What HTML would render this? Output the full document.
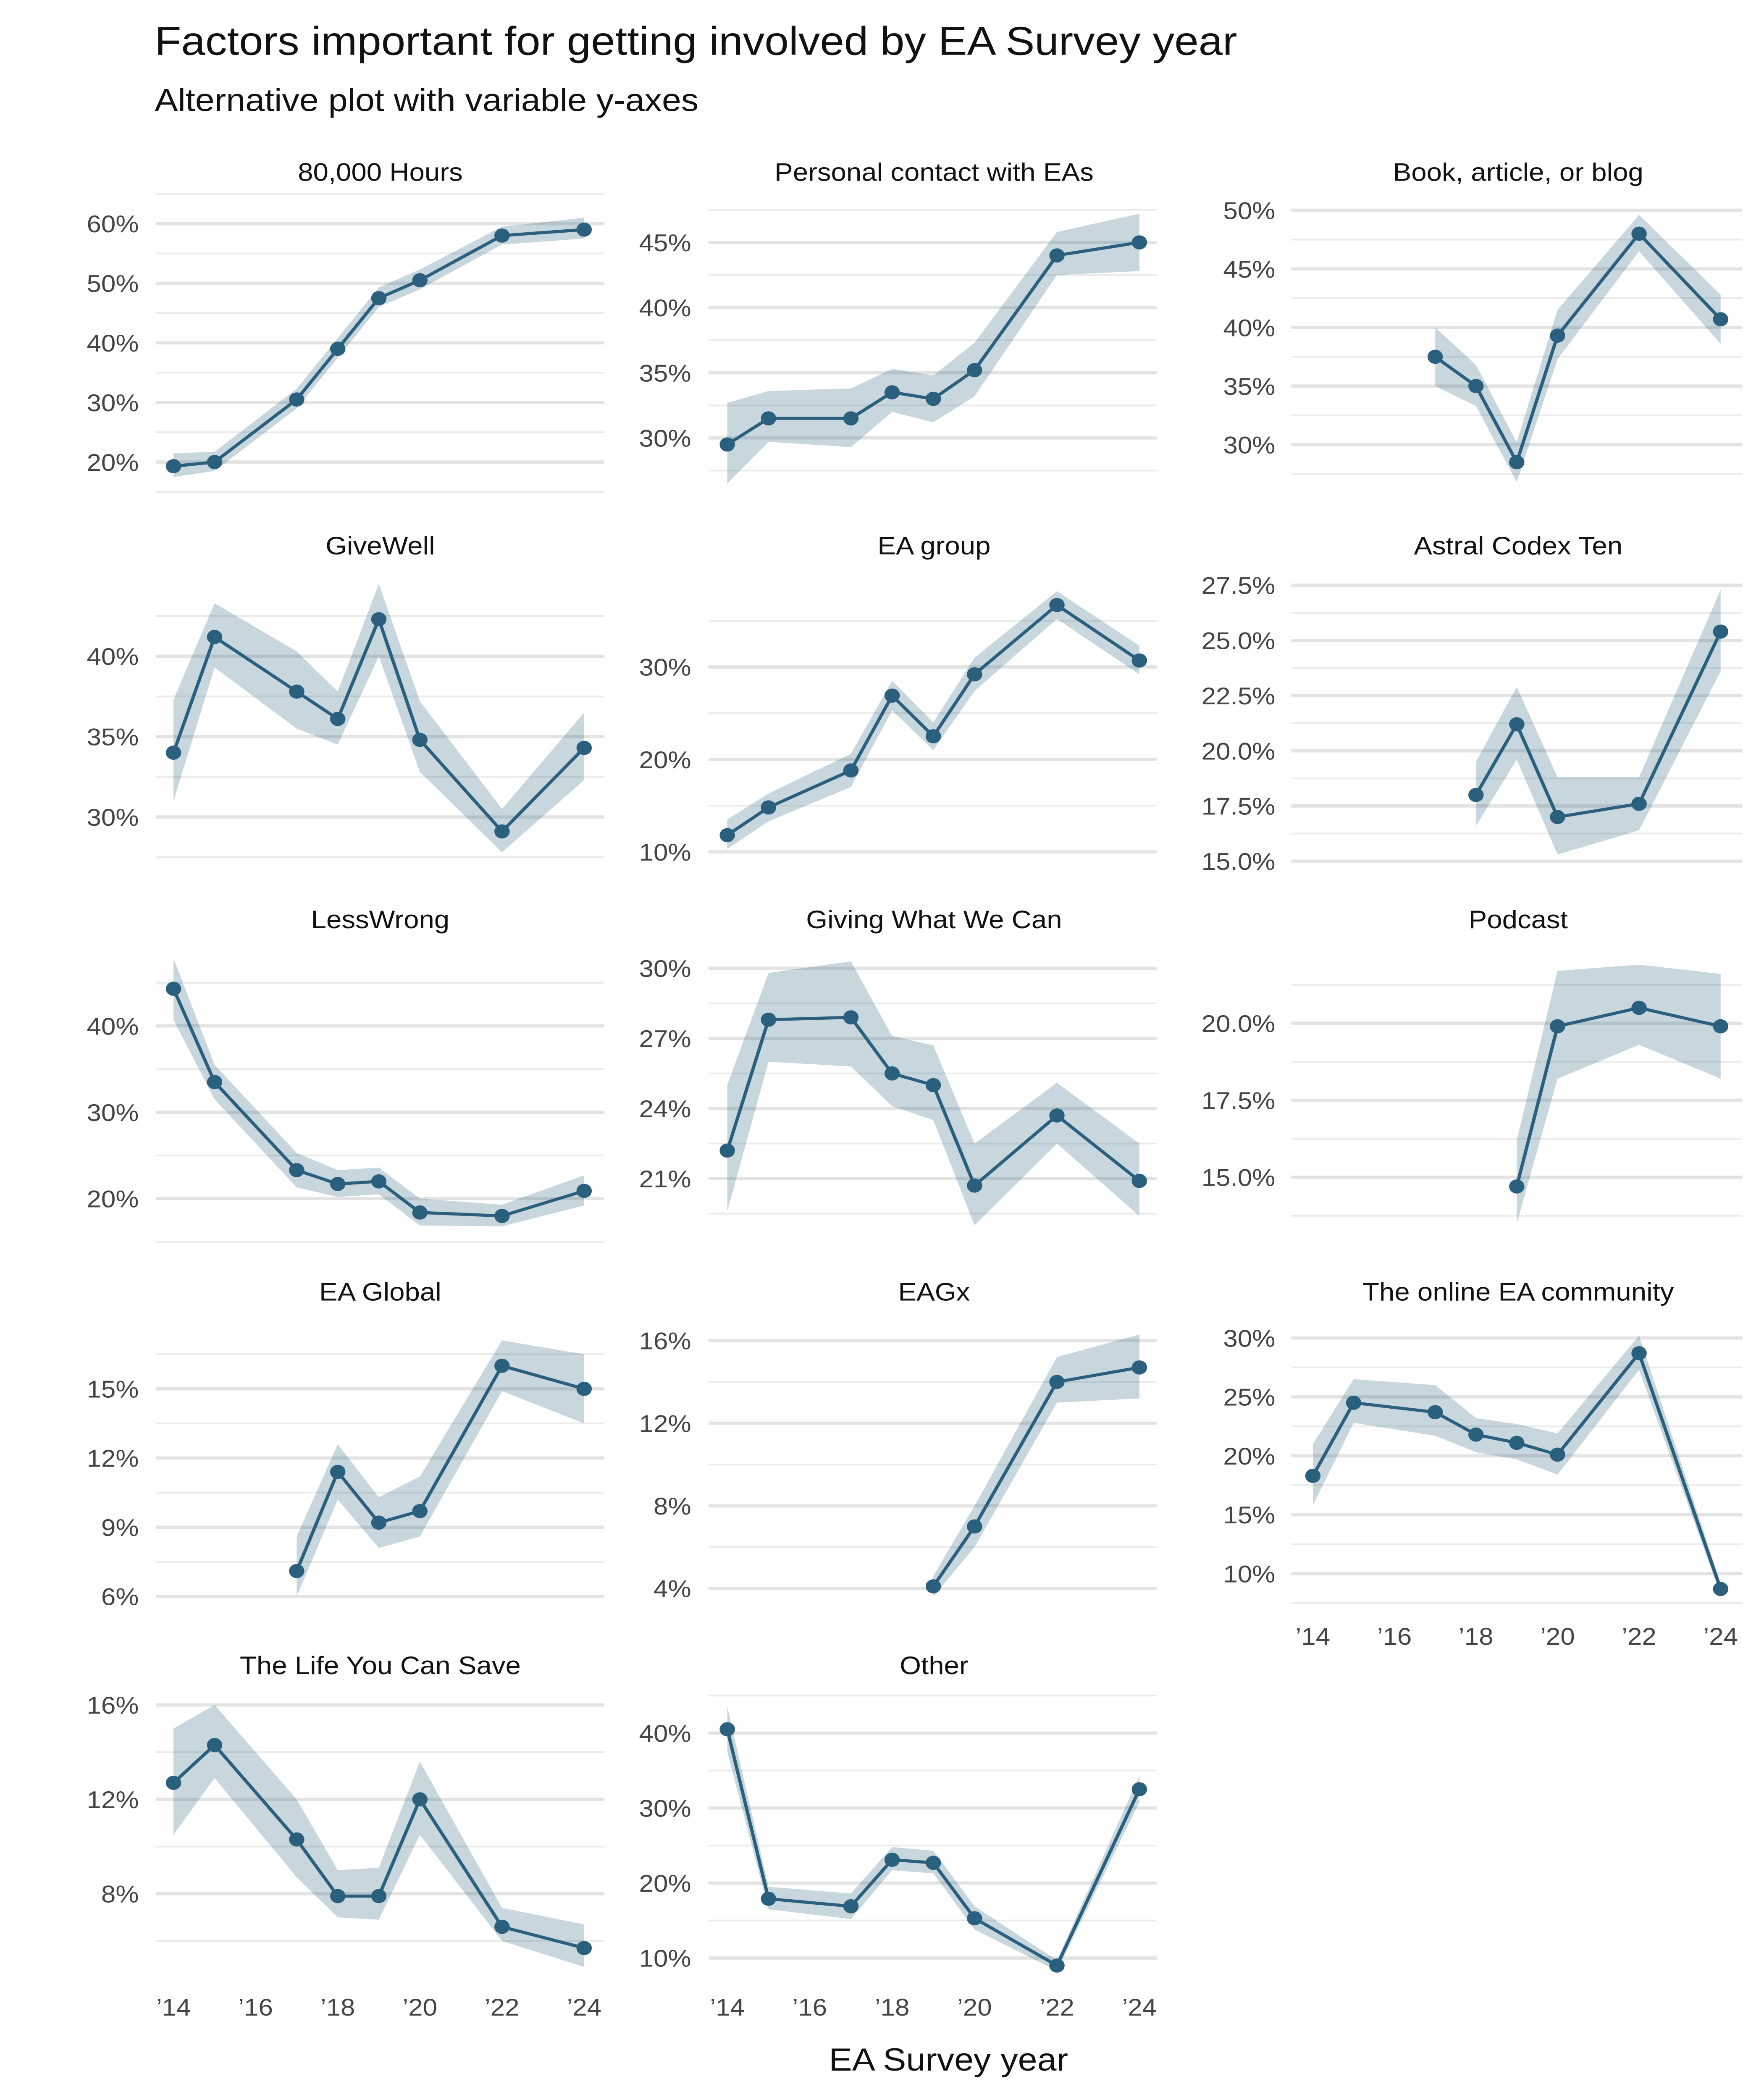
<!DOCTYPE html>
<html><head><meta charset="utf-8">
<style>
html,body{margin:0;padding:0;background:#fff;width:100%;height:100%;overflow:hidden;}
svg{display:block;position:absolute;left:0;top:0;width:100vw;height:100vh;font-family:"Liberation Sans",sans-serif;}
</style></head>
<body>
<svg id="chart" viewBox="0 0 1220 1568" preserveAspectRatio="none" xmlns="http://www.w3.org/2000/svg">
<rect width="1220" height="1568" fill="#fff"/>
<text x="107" y="41" font-size="30" fill="#111">Factors important for getting involved by EA Survey year</text>
<text x="107" y="83" font-size="24" fill="#111">Alternative plot with variable y-axes</text>
<text x="656" y="1546" font-size="24" fill="#111" text-anchor="middle">EA Survey year</text>
<g id="panels"></g>
</svg>
<script>
const years = [2014, 2015, 2017, 2018, 2019, 2020, 2022, 2024];
const xTickYears = [2014, 2016, 2018, 2020, 2022, 2024];
const xTickLabels = ["’14", "’16", "’18", "’20", "’22", "’24"];
const panelTitles = ["80,000 Hours","Personal contact with EAs","Book, article, or blog","GiveWell","EA group","Astral Codex Ten","LessWrong","Giving What We Can","Podcast","EA Global","EAGx","The online EA community","The Life You Can Save","Other"];
const seriesValues = [
 [19.3,20,30.5,39,47.5,50.5,58,59],
 [29.5,31.5,31.5,33.5,33,35.2,44,45],
 [null,null,37.5,35,28.5,39.3,48,40.7],
 [34,41.2,37.8,36.1,42.3,34.8,29.1,34.3],
 [11.8,14.8,18.8,26.9,22.5,29.2,36.7,30.7],
 [null,null,null,18,21.2,17,17.6,25.4],
 [44.3,33.5,23.3,21.7,22,18.4,18,20.9],
 [22.2,27.8,27.9,25.5,25,20.7,23.7,20.9],
 [null,null,null,null,14.7,19.9,20.5,19.9],
 [null,null,7.1,11.4,9.2,9.7,16,15],
 [null,null,null,null,4.1,7,14,14.7],
 [18.3,24.5,23.7,21.8,21.1,20.1,28.7,8.7],
 [12.7,14.3,10.3,7.9,7.9,12,6.6,5.7],
 [40.5,17.9,16.9,23.1,22.7,15.3,9,32.5]
];
const seriesLow = [
 [17.5,18.5,29,37.5,46,49,56.5,57.5],
 [26.5,29.7,29.3,32,31.2,33.2,42.5,42.8],
 [null,null,35,33.3,26.8,37.3,46.5,38.6],
 [31,39.3,35.5,34.5,40,32.8,27.8,32.3],
 [10.3,13.3,17,25.3,21,27.4,35.2,29.2],
 [null,null,null,16.6,19.6,15.3,16.4,23.6],
 [40.7,31.5,21.3,20.2,20.5,16.9,16.8,19.2],
 [19.6,26,25.8,24.1,23.5,19,22.5,19.4],
 [null,null,null,null,13.5,18.2,19.3,18.2],
 [null,null,6,10.2,8.1,8.6,14.9,13.5],
 [null,null,null,null,3.6,6,13,13.2],
 [15.8,22.8,21.7,20.3,19.7,18.4,27.3,8.2],
 [10.5,12.9,8.7,7,6.9,10.5,6,4.9],
 [37.5,16.5,15.2,21.7,21.3,13.8,8.3,30.8]
];
const seriesHigh = [
 [21.5,21.7,32.3,40.8,49.3,52.3,59.5,61],
 [32.7,33.6,33.8,35.3,34.8,37.3,45.8,47.2],
 [null,null,40,36.8,30.2,41.5,49.6,42.8],
 [37.3,43.3,40.3,37.8,44.5,37.2,30.5,36.5],
 [13.5,16.3,20.6,28.5,24,31,38.2,32.3],
 [null,null,null,19.5,22.9,18.8,18.8,27.3],
 [47.8,35.5,25.3,23.3,23.6,20,19.3,22.7],
 [25,29.8,30.3,27.1,26.7,22.5,25.1,22.5],
 [null,null,null,null,16.2,21.7,21.9,21.6],
 [null,null,8.6,12.6,10.3,11.2,17.1,16.5],
 [null,null,null,null,4.6,8,15.2,16.3],
 [21,26.5,26,23.2,22.7,21.9,30.2,9.2],
 [15,16,12,9,9.1,13.6,7.4,6.7],
 [43.5,19.5,18.6,24.8,24.3,16.9,9.7,34.3]
];
const yTicks = [
 [20,30,40,50,60],
 [30,35,40,45],
 [30,35,40,45,50],
 [30,35,40],
 [10,20,30],
 [15,17.5,20,22.5,25,27.5],
 [20,30,40],
 [21,24,27,30],
 [15,17.5,20],
 [6,9,12,15],
 [4,8,12,16],
 [10,15,20,25,30],
 [8,12,16],
 [10,20,30,40]
];
const yTickDecimals = [0,0,0,0,0,1,0,0,1,0,0,0,0,0];

// layout (pixel geometry, not data)
const colX = [{x0:108,x1:418,y14:120,y24:404,lab:96,cx:263},{x0:490,x1:800,y14:503,y24:788,lab:478,cx:646},{x0:893,x1:1205,y14:908,y24:1190,lab:882,cx:1050}];
const rowY = [{t:145,b:367,title:135},{t:425,b:647,title:414},{t:705,b:925,title:693},{t:985,b:1205,title:971},{t:1262,b:1482,title:1250}];
const tickPx = [[345,167],[327,181],[332,157],[610,490],[636,498],[643,437],[895,766],[880,723],[879,764],[1192,1037],[1186,1001],[1175,999],[1414,1273],[1462,1294]];

const NS="http://www.w3.org/2000/svg";
const root=document.getElementById('panels');
function mk(tag,attrs,parent){const e=document.createElementNS(NS,tag);for(const k in attrs)e.setAttribute(k,attrs[k]);parent.appendChild(e);return e;}
const col="#2b5f7e";

panelTitles.forEach((title,i)=>{
  const c=colX[i%3], r=rowY[Math.floor(i/3)];
  const g=mk('g',{},root);
  
  
  const tk=yTicks[i];
  const v0=tk[0], v1=tk[tk.length-1], p0=tickPx[i][0], p1=tickPx[i][1];
  const y=v=>p0+(v-v0)*(p1-p0)/(v1-v0);
  const x=yr=>c.y14+(yr-2014)*(c.y24-c.y14)/10;
  const step=tk[1]-tk[0];
  for(let v=v0-step/2; y(v)>=r.t-3; v+=step){
    if(y(v)<=r.b+3){const l=mk('line',{x1:c.x0,x2:c.x1,y1:y(v),y2:y(v),stroke:'#ebebeb','stroke-width':1.3},g);
    
    }
  }
  tk.forEach(v=>{
    const l=mk('line',{x1:c.x0,x2:c.x1,y1:y(v),y2:y(v),stroke:'#e3e3e3','stroke-width':2.4},g);
    
    
    const t=mk('text',{x:c.lab,y:y(v)+6.5,'font-size':18,fill:'#444','text-anchor':'end'},g);
    t.textContent=v.toFixed(yTickDecimals[i])+'%';
    
    
  });
  const tt=mk('text',{x:c.cx,y:r.title,'font-size':19,fill:'#111','text-anchor':'middle'},g);
  tt.textContent=title;
  
  
  const idx=years.map((_,k)=>k).filter(k=>seriesValues[i][k]!=null);
  const top=idx.map(k=>x(years[k])+','+y(seriesHigh[i][k]));
  const bot=idx.slice().reverse().map(k=>x(years[k])+','+y(seriesLow[i][k]));
  const band=mk('polygon',{points:top.concat(bot).join(' '),fill:col,'fill-opacity':0.26},g);
  
  
  const line=mk('polyline',{points:idx.map(k=>x(years[k])+','+y(seriesValues[i][k])).join(' '),fill:'none',stroke:col,'stroke-width':2.3},g);
  
  
  idx.forEach(k=>{
    const p=mk('circle',{cx:x(years[k]),cy:y(seriesValues[i][k]),r:5.3,fill:col},g);
    
    
  });
  const showX = i>=12 || i===11;
  if(showX){
    const ly = i===11 ? 1228 : 1505;
    xTickYears.forEach((yr,j)=>{
      const t=mk('text',{x:x(yr),y:ly,'font-size':18,fill:'#444','text-anchor':'middle'},g);
      t.textContent=xTickLabels[j];
      
      
    });
  }
});
</script>
</body></html>
